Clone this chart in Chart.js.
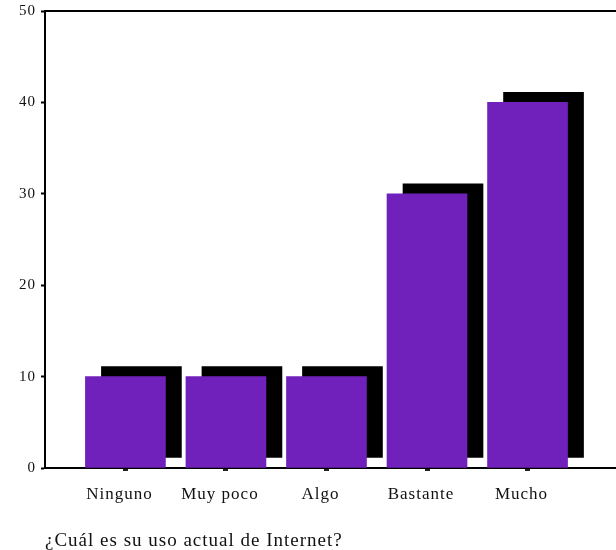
<!DOCTYPE html>
<html>
<head>
<meta charset="utf-8">
<script src="https://cdn.jsdelivr.net/npm/chart.js@4"></script>
<style>
  html, body { margin: 0; padding: 0; background: #fff; }
  #wrap { width: 616px; height: 550px; }
</style>
</head>
<body>
<div id="wrap"><canvas id="usoChart" width="616" height="550"></canvas></div>
<script>
var categories = ["Ninguno", "Muy poco", "Algo", "Bastante", "Mucho"];
var values = [10, 10, 10, 30, 40];
var yTicks = [0, 10, 20, 30, 40, 50];
var axisTitle = "¿Cuál es su uso actual de Internet?";

// old export look: letters drawn a bit apart
var spacing = {
    id: "spacing",
    beforeUpdate: function (chart) { chart.ctx.letterSpacing = "1px"; },
    beforeDraw: function (chart) { chart.ctx.letterSpacing = "1px"; },
};

// black drop shadow behind each bar, up and to the right
var barShadow = {
    id: "barShadow",
    beforeDatasetsDraw: function (chart) {
        var c = chart.ctx;
        c.save();
        c.shadowColor = "#000";
        c.shadowBlur = 0;
        c.shadowOffsetX = 16;
        c.shadowOffsetY = -10;
    },
    afterDatasetsDraw: function (chart) {
        chart.ctx.restore();
    },
};

// top frame line
var topLine = {
    id: "topLine",
    afterDraw: function (chart) {
        var c = chart.ctx, a = chart.chartArea;
        c.save();
        c.strokeStyle = "#000";
        c.lineWidth = 2;
        c.beginPath();
        c.moveTo(a.left - 1, a.top);
        c.lineTo(a.right, a.top);
        c.stroke();
        c.restore();
    },
};

var ctxx = document.getElementById("usoChart").getContext("2d");
ctxx.letterSpacing = "1px";

var myChart = new Chart(ctxx, {
    type: "bar",
    data: {
        datasets: [
            {
                data: values.map(function (v, i) { return { x: i, y: v }; }),
                backgroundColor: "#7020BB",
                borderWidth: 0,
                barThickness: 80,
            },
        ],
    },
    plugins: [spacing, barShadow, topLine],
    options: {
        responsive: false,
        animation: false,
        layout: { padding: { top: 11, right: 0, left: 0, bottom: 0 } },
        scales: {
            x: {
                type: "linear",
                offset: false,
                min: -0.8,
                max: 4.88,
                afterBuildTicks: function (axis) {
                    axis.ticks = categories.map(function (c, i) { return { value: i }; });
                },
                afterFit: function (axis) {
                    axis.height = 82;
                    axis.paddingLeft = 0;
                    axis.paddingRight = 0;
                },
                ticks: {
                    callback: function (v) { return categories[v]; },
                    color: "#111",
                    font: { family: "Liberation Serif", size: 17 },
                    padding: 13,
                    labelOffset: -6,
                    maxRotation: 0,
                    autoSkip: false,
                },
                grid: {
                    offset: false,
                    drawOnChartArea: false,
                    tickLength: 3,
                    tickWidth: 5,
                    tickColor: "#222",
                },
                border: { color: "#000", width: 2 },
                title: {
                    display: true,
                    text: axisTitle,
                    align: "start",
                    color: "#111",
                    font: { family: "Liberation Serif", size: 19 },
                    padding: { top: 0, bottom: -2 },
                },
            },
            y: {
                min: 0,
                max: 50,
                afterBuildTicks: function (axis) {
                    axis.ticks = yTicks.map(function (t) { return { value: t }; });
                },
                afterFit: function (axis) {
                    axis.width = 45;
                    axis.paddingTop = 0;
                    axis.paddingBottom = 0;
                },
                ticks: {
                    color: "#111",
                    font: { family: "Liberation Serif", size: 15 },
                    padding: 5,
                },
                grid: {
                    drawOnChartArea: false,
                    tickLength: 4,
                    tickWidth: 2,
                    tickColor: "#000",
                },
                border: { color: "#000", width: 2 },
            },
        },
        plugins: {
            legend: { display: false },
            tooltip: { enabled: false },
        },
    },
});
</script>
</body>
</html>
